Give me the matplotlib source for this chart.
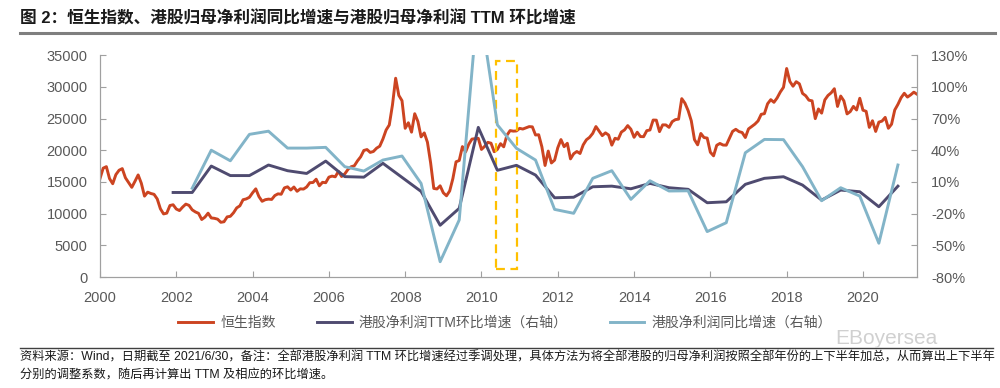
import numpy as np
import pandas as pd
import matplotlib
matplotlib.use('Agg')
import matplotlib.pyplot as plt
from matplotlib.lines import Line2D
from matplotlib.patches import Rectangle

plt.rcParams['font.family'] = ['Liberation Sans', 'Noto Sans CJK SC', 'DejaVu Sans']

# Hang Seng index, monthly, Jan 2000 - Jun 2021
hsi = [
    15532, 17170, 17407, 15519, 14713, 16156, 16841, 17097, 15649, 14895, 14145, 15096,  # 2000
    16102, 14788, 12761, 13386, 13174, 13043, 12317, 10762, 9951, 10073, 11279, 11397,    # 2001
    10725, 10482, 11033, 11497, 11301, 10598, 10268, 10043, 9072, 9442, 10070, 9321,      # 2002
    9258, 9123, 8634, 8717, 9487, 9577, 10134, 10903, 11230, 12190, 12318, 12576,         # 2003
    13289, 13908, 12682, 11942, 12198, 12286, 12238, 12850, 13120, 13055, 14060, 14230,   # 2004
    13721, 14195, 13517, 13909, 13867, 14201, 14880, 14904, 15429, 14386, 14937, 14876,   # 2005
    15753, 15918, 15805, 16661, 15857, 16267, 16971, 17392, 17543, 18324, 18960, 19965,   # 2006
    20106, 19652, 19801, 20318, 20635, 21773, 23185, 23984, 27143, 31352, 28643, 27813,   # 2007
    23456, 24332, 22849, 25755, 24533, 22102, 22731, 21262, 18016, 13969, 13888, 14387,   # 2008
    13278, 12812, 13576, 15521, 18171, 18379, 20573, 19724, 20955, 21753, 21822, 21873,   # 2009
    20122, 20608, 21239, 21108, 19765, 20129, 21030, 20536, 22359, 23096, 23008, 23035,   # 2010
    23447, 23338, 23528, 23721, 23684, 22398, 22440, 20535, 17592, 19864, 17989, 18434,   # 2011
    20390, 21680, 20556, 21094, 18630, 19441, 19797, 19483, 20840, 21642, 22030, 22657,   # 2012
    23730, 23020, 22300, 22737, 22392, 20803, 21883, 21731, 22860, 23206, 23881, 23306,   # 2013
    22035, 22837, 22151, 22134, 23082, 23191, 24757, 24742, 22933, 23998, 23987, 23605,   # 2014
    24507, 24823, 24901, 28133, 27424, 26250, 24636, 21671, 20846, 22640, 21996, 21914,   # 2015
    19683, 19112, 20777, 21067, 20815, 20794, 21891, 22977, 23297, 22935, 22790, 22001,   # 2016
    23361, 23741, 24112, 24615, 25661, 25765, 27324, 27970, 27554, 28246, 29177, 29919,   # 2017
    32887, 30845, 30093, 30808, 30469, 28955, 28583, 27889, 27789, 24980, 26507, 25846,   # 2018
    27931, 28633, 29051, 29699, 26901, 28543, 27778, 25725, 26092, 26907, 26346, 28190,   # 2019
    26313, 26130, 23603, 24644, 22961, 24427, 24595, 25177, 23459, 24107, 26341, 27231,   # 2020
    28284, 28980, 28378, 28725, 29152, 28828,                                             # 2021
]
hsi_start = '2000-01'

# half-year profit growth (%), right axis
ttm_periods = ['2001-12', '2002-06', '2002-12', '2003-06', '2003-12', '2004-06', '2004-12',
               '2005-06', '2005-12', '2006-06', '2006-12', '2007-06', '2007-12', '2008-06',
               '2008-12', '2009-06', '2009-12', '2010-06', '2010-12', '2011-06', '2011-12',
               '2012-06', '2012-12', '2013-06', '2013-12', '2014-06', '2014-12', '2015-06',
               '2015-12', '2016-06', '2016-12', '2017-06', '2017-12', '2018-06', '2018-12',
               '2019-06', '2019-12', '2020-06', '2020-12']
ttm_qoq = [0, 0, 25, 16, 16, 26, 20.6, 18, 29.7, 15, 14.5, 27.6, 14.3, 1, -31, -15, 61.6,
           21, 25.7, 16.5, -5, -4.5, 5.4, 6, 3.5, 8.6, 4.5, 3, -9.7, -8.8, 7.7, 13.4, 14.9,
           7, -7.2, 2.3, 0.7, -13.5, 6]
yoy_periods = ttm_periods[1:]
yoy = [4, 40, 30, 55, 58, 42, 42, 42.7, 24.4, 20.3, 30.7, 34.5, 8.6, -65.5, -26, 185, 64,
       41.8, 30.7, -16, -19.7, 13.4, 20.6, -6.5, 11.1, 1.4, 1.6, -37, -28.6, 37.6, 50.2, 50,
       24.4, -7.8, 4.5, -3.4, -48, 26]

# highlighted window (years, right-axis %)
box_x = (2010.37, 2010.92)
box_y = (-72, 124)

title = '图 2：恒生指数、港股归母净利润同比增速与港股归母净利润 TTM 环比增速'
labels = ['恒生指数', '港股净利润TTM环比增速（右轴）', '港股净利润同比增速（右轴）']
note1 = ('资料来源：Wind，日期截至 2021/6/30，备注：全部港股净利润 TTM 环比增速经过季调处理，'
         '具体方法为将全部港股的归母净利润按照全部年份的上下半年加总，从而算出上下半年')
note2 = '分别的调整系数，随后再计算出 TTM 及相应的环比增速。'


def to_year(periods):
    p = pd.PeriodIndex(periods, freq='M')
    return p.year + (p.month - 1) / 12


hsi_x = to_year(pd.period_range(hsi_start, periods=len(hsi), freq='M'))
ttm_x = to_year(ttm_periods)
yoy_x = to_year(yoy_periods)

RED, DARK, LIGHT = '#CC4421', '#4F4B70', '#82B4C8'
GREY = '#595959'
AXC = '#A0A0A0'

fig = plt.figure(figsize=(10, 3.88), dpi=100)
ax = fig.add_axes([0.100, 0.286, 0.817, 0.572])
ax2 = ax.twinx()

l1, = ax.plot(hsi_x, hsi, color=RED, lw=2.1)
l2, = ax2.plot(ttm_x, ttm_qoq, color=DARK, lw=2.1)
l3, = ax2.plot(yoy_x, yoy, color=LIGHT, lw=2.1)
ax2.add_patch(Rectangle((box_x[0], box_y[0]), box_x[1] - box_x[0], box_y[1] - box_y[0],
                        fill=False, ec='#FFC000', lw=1.6, ls=(0, (4, 2.5))))

ax.set_xlim(2000, hsi_x[-1])
ax.set_ylim(0, 35000)
ax.set_yticks(np.arange(0, 35001, 5000))
ax.set_xticks(np.arange(2000, 2021, 2))
ax2.set_ylim(-80, 130)
ax2.set_yticks(np.arange(-80, 131, 30))
ax2.set_yticklabels([f'{v}%' for v in range(-80, 131, 30)])

for a in (ax, ax2):
    a.spines['top'].set_visible(False)
    for s in ('left', 'right', 'bottom'):
        a.spines[s].set_color(AXC)
    a.tick_params(direction='in', length=4, color=AXC, labelcolor=GREY, labelsize=10.5)
ax.tick_params(axis='x', pad=10)
ax.tick_params(axis='y', pad=9)
ax2.tick_params(axis='y', pad=10)

fig.legend([l1, l2, l3], labels, loc='center', bbox_to_anchor=(0.505, 0.168), ncol=3,
           frameon=False, fontsize=10, handlelength=2.5, handletextpad=0.5,
           columnspacing=3.0, labelcolor=GREY)

fig.text(0.02, 1 - 18 / 388, title, fontsize=12, fontweight='bold', va='center',
         color='#1a1a1a')
fig.add_artist(Line2D([0.02, 0.995], [1 - 33 / 388] * 2, color='#7F7F7F', lw=2.2))
fig.add_artist(Line2D([0.02, 0.993], [1 - 348 / 388] * 2, color='#404040', lw=1.0))
fig.text(0.02, 1 - 357 / 388, note1, fontsize=8.8, va='center', color='#1a1a1a')
fig.text(0.02, 1 - 375 / 388, note2, fontsize=8.8, va='center', color='#1a1a1a')
fig.text(0.835, 1 - 338 / 388, 'EBoyersea', fontsize=15, color='#D0D0D0', va='center')

fig.savefig('out.png', dpi=100)
